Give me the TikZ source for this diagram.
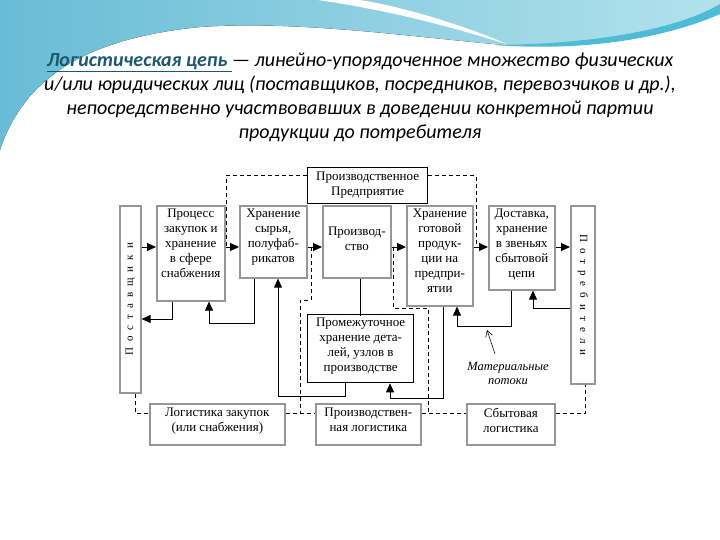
\documentclass[tikz,border=0pt]{standalone}
\usepackage{fontspec}
\setmainfont{Liberation Serif}
\newfontfamily\titlefont{Carlito}
\usetikzlibrary{arrows.meta}
\definecolor{boxgray}{RGB}{150,150,150}
\definecolor{titleblue}{RGB}{28,88,112}
\definecolor{bgA}{RGB}{105,188,214}
\definecolor{bgB}{RGB}{178,226,236}
\definecolor{swoosh}{RGB}{78,188,214}
\newcommand\ls{\hspace{6pt}}
\newcommand\bt[4]{\begin{minipage}[t][#2][t]{#1}\centering\vspace*{#3}#4\end{minipage}}
\begin{document}
\begin{tikzpicture}[x=1pt,y=-1pt,
  box/.style={draw=boxgray, line width=1.6pt, inner sep=0pt, anchor=north west, font=\fontsize{13}{15}\selectfont},
  dbox/.style={box, draw=black, line width=1.3pt},
  ln/.style={draw=black, line width=0.9pt},
  arr/.style={ln, -{Triangle[length=9pt,width=8pt]}},
  dsh/.style={draw=black, line width=0.9pt, dash pattern=on 4pt off 3pt}]
\useasboundingbox (0,0) rectangle (720,540);
\fill[white] (0,0) rectangle (720,540);
% background swoosh
\fill[left color=bgA, right color=bgB] (0,0) -- (720,0) -- (720,10)
  .. controls (680,35) and (600,50) .. (505,45)
  .. controls (420,38) and (300,20) .. (200,27)
  .. controls (90,38) and (25,75) .. (0,150) -- cycle;
\fill[white] (318,0) .. controls (400,12) and (460,30) .. (507,44)
  .. controls (470,28) and (410,8) .. (360,0) -- cycle;
\fill[swoosh] (495,45) .. controls (600,53) and (680,32) .. (720,14)
  -- (720,4) .. controls (680,28) and (600,44) .. (495,45) -- cycle;
% title
\node[font=\titlefont\itshape\fontsize{20}{24}\selectfont, align=center] (title) at (360,97)
  {{\bfseries\color{titleblue}\underline{Логистическая цепь\ }}— линейно-упорядоченное множество физических\\
   и/или юридических лиц (поставщиков, посредников, перевозчиков и др.),\\
   непосредственно участвовавших в доведении конкретной партии\\
   продукции до потребителя};
% boxes
\node[box, minimum width=21pt, minimum height=187pt] (sup) at (119,205)
  {\rotatebox{90}{\fontsize{11}{11}\selectfont П\ls о\ls с\ls т\ls а\ls в\ls щ\ls и\ls к\ls и}};
\node[box] (proc) at (156,205) {\bt{68pt}{95pt}{3pt}{Процесс\\закупок и\\хранение\\в сфере\\снабжения}};
\node[box] (raw) at (239,205) {\bt{67pt}{72pt}{3pt}{Хранение\\сырья,\\полуфаб-\\рикатов}};
\node[box] (prod) at (322,205) {\bt{68pt}{72pt}{21pt}{Производ-\\ство}};
\node[box] (fin) at (406,205) {\bt{66pt}{100pt}{3pt}{Хранение\\готовой\\продук-\\ции на\\предпри-\\ятии}};
\node[box] (deliv) at (488,205) {\bt{66pt}{84pt}{3pt}{Доставка,\\хранение\\в звеньях\\сбытовой\\цепи}};
\node[box, minimum width=24pt, minimum height=178pt] (cons) at (570,205)
  {\rotatebox{-90}{\fontsize{11}{11}\selectfont П\ls о\ls т\ls р\ls е\ls б\ls и\ls т\ls е\ls л\ls и}};
\node[dbox] (ent) at (307,167) {\bt{120pt}{36pt}{4pt}{Производственное\\Предприятие}};
\node[dbox] (mid) at (307,314) {\bt{106pt}{68pt}{3pt}{Промежуточное\\хранение дета-\\лей, узлов в\\производстве}};
\node[box] (lz) at (149,403) {\bt{135pt}{41pt}{4pt}{Логистика закупок\\(или снабжения)}};
\node[box] (lp) at (315,403) {\bt{105pt}{41pt}{4pt}{Производствен-\\ная логистика}};
\node[box] (sb) at (466,403) {\bt{88pt}{41pt}{4pt}{Сбытовая\\логистика}};
\node[font=\itshape\fontsize{12.5}{14}\selectfont, align=center] (mat) at (508,373) {Материальные\\потоки};
% helper coordinates
\coordinate (ay) at (0,247);
\coordinate (r1) at (0,319);
\coordinate (r2) at (0,308);
\coordinate (dy) at (0,413);
\coordinate (j1) at (226,247);
\coordinate (j2) at (476,247);
\coordinate (j3) at (311,247);
\coordinate (j4) at (300,413);
\coordinate (j5) at (393,247);
\coordinate (j6) at (428,413);
\coordinate (mt) at (495,354);
\coordinate (ma) at (487,330);
% material flows
\draw[arr] (sup.east |- ay) -- (proc.west |- ay);
\draw[arr] (proc.east |- ay) -- (raw.west |- ay);
\draw[arr] (raw.east |- ay) -- (prod.west |- ay);
\draw[arr] (prod.east |- ay) -- (fin.west |- ay);
\draw[arr] (fin.east |- ay) -- (deliv.west |- ay);
\draw[arr] (deliv.east |- ay) -- (cons.west |- ay);
\draw[arr] ([xshift=16pt]proc.south west) |- (sup.east |- r1);
\draw[arr] ([xshift=15pt]raw.south west) -- ++(0,45) -| ([xshift=53pt]proc.south west);
\draw[arr] ([xshift=38pt]mid.south west) -- ++(0,13) -| ([xshift=39pt]raw.south west);
\draw[ln] ([xshift=38pt]prod.south west) -- ++(0,37);
\draw[arr] ([xshift=37pt]fin.south west) -- ++(0,92) -| ([xshift=83pt]mid.south west);
\draw[arr] ([xshift=23pt]deliv.south west) -- ++(0,36) -| ([xshift=51pt]fin.south west);
\draw[arr] (cons.west |- r2) -| ([xshift=45pt]deliv.south west);
% information flows
\draw[dsh] ([yshift=10pt]ent.west) -| (j1);
\draw[dsh] ([yshift=10pt]ent.east) -| (j2);
\draw[dsh] (j3) -- ++(0,53) -| (j4);
\draw[dsh] (j5) -- ++(0,61) -| (j6);
\draw[dsh] ([xshift=5pt]sup.south) |- (lz.west |- dy);
\draw[dsh] (lz.east |- dy) -- (lp.west |- dy);
\draw[dsh] (lp.east |- dy) -- (sb.west |- dy);
\draw[dsh] (sb.east |- dy) -| ([xshift=3pt]cons.south);
% label arrow
\draw[line width=0.6pt, -{Straight Barb[length=6pt,width=7pt]}] (mt) -- (ma);
\end{tikzpicture}
\end{document}
